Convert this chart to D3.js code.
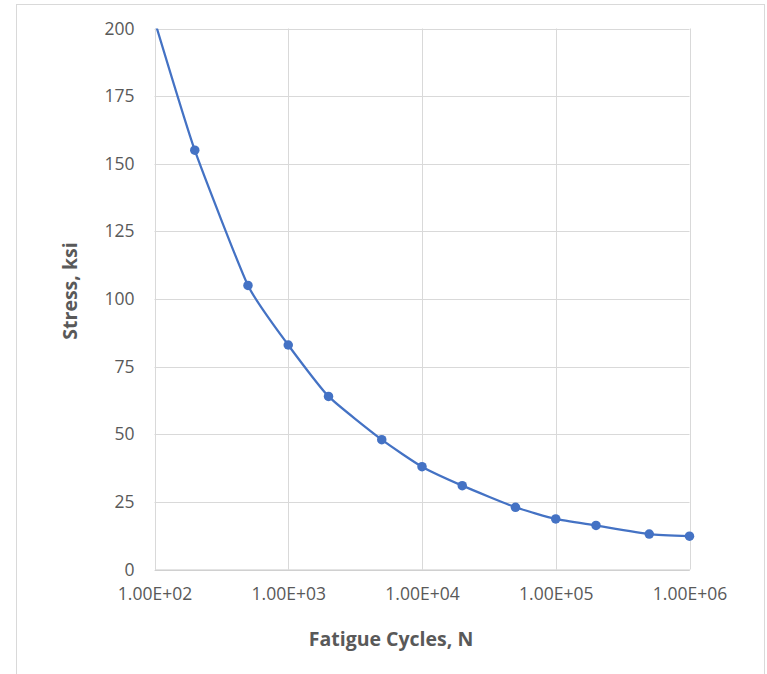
<!DOCTYPE html>
<html><head><meta charset="utf-8">
<script src="https://cdn.jsdelivr.net/npm/d3@7"></script>
<style>body{margin:0;background:#fff;}svg{display:block;}</style>
</head><body>
<script>
const cycles = [1e2, 2e2, 5e2, 1e3, 2e3, 5e3, 1e4, 2e4, 5e4, 1e5, 2e5, 5e5, 1e6];
const stress = [203, 155, 105, 83, 64, 48, 38, 31, 23, 18.7, 16.3, 13.1, 12.3];
const xTicks = [1e2, 1e3, 1e4, 1e5, 1e6];
const xTickLabels = ["1.00E+02", "1.00E+03", "1.00E+04", "1.00E+05", "1.00E+06"];
const yTicks = [0, 25, 50, 75, 100, 125, 150, 175, 200];

const W = 767, H = 674;
const svg = d3.select("body").append("svg").attr("width", W).attr("height", H);
const font = "'Open Sans', 'Liberation Sans', sans-serif";
const textCol = "#595959";

// chart frame
svg.append("rect").attr("x", 16.5).attr("y", 4.5).attr("width", 748).attr("height", 680)
  .attr("fill", "#fff").attr("stroke", "#d9d9d9").attr("stroke-width", 1);

const L = 154.5, R = 689.5, T = 28.5, B = 569.5;
const x = d3.scaleLog().domain([1e2, 1e6]).range([L, R]);
const y = d3.scaleLinear().domain([0, 200]).range([B, T]);

const g = svg.append("g");
g.selectAll(".hg").data(yTicks).join("line")
  .attr("x1", L).attr("x2", R).attr("y1", d => Math.round(y(d)) + 0.5).attr("y2", d => Math.round(y(d)) + 0.5)
  .attr("stroke", "#d9d9d9").attr("stroke-width", 1);
g.selectAll(".vg").data(xTicks).join("line")
  .attr("y1", T).attr("y2", B).attr("x1", d => Math.round(x(d)) + 0.5).attr("x2", d => Math.round(x(d)) + 0.5)
  .attr("stroke", "#d9d9d9").attr("stroke-width", 1);

const yAxis = d3.axisLeft(y).tickValues(yTicks).tickSize(0).tickPadding(20);
const ya = svg.append("g").attr("transform", `translate(${L},0)`).call(yAxis);
ya.select(".domain").remove();
ya.selectAll("text").attr("font-family", font).attr("font-size", 17.5).attr("fill", textCol);

const xAxis = d3.axisBottom(x).tickValues(xTicks).tickSize(0).tickPadding(18)
  .tickFormat((d, i) => xTickLabels[i]);
const xa = svg.append("g").attr("transform", `translate(0,${B})`).call(xAxis);
xa.select(".domain").attr("stroke", "#c8c8c8");
xa.selectAll("text").attr("font-family", font).attr("font-size", 17.5).attr("fill", textCol);

svg.append("text").attr("x", 391).attr("y", 645.5).attr("text-anchor", "middle")
  .attr("font-family", font).attr("font-size", 19.5).attr("font-weight", "bold").attr("fill", textCol)
  .text("Fatigue Cycles, N");
svg.append("text").attr("transform", `translate(77,291) rotate(-90)`).attr("text-anchor", "middle")
  .attr("font-family", font).attr("font-size", 19.5).attr("font-weight", "bold").attr("fill", textCol)
  .text("Stress, ksi");

svg.append("clipPath").attr("id", "clip").append("rect")
  .attr("x", L).attr("y", T).attr("width", R - L + 10).attr("height", B - T);

const data = cycles.map((c, i) => ({c, s: stress[i]}));
const line = d3.line().x(d => x(d.c)).y(d => y(d.s)).curve(d3.curveCardinal.tension(0.5));
const col = "#4472C4";
svg.append("path").datum(data).attr("clip-path", "url(#clip)")
  .attr("d", line).attr("fill", "none").attr("stroke", col).attr("stroke-width", 2.25);
svg.append("g").selectAll("circle").data(data.filter(d => d.s <= 200)).join("circle")
  .attr("cx", d => x(d.c)).attr("cy", d => y(d.s)).attr("r", 4.75).attr("fill", col);
</script>
</body></html>
